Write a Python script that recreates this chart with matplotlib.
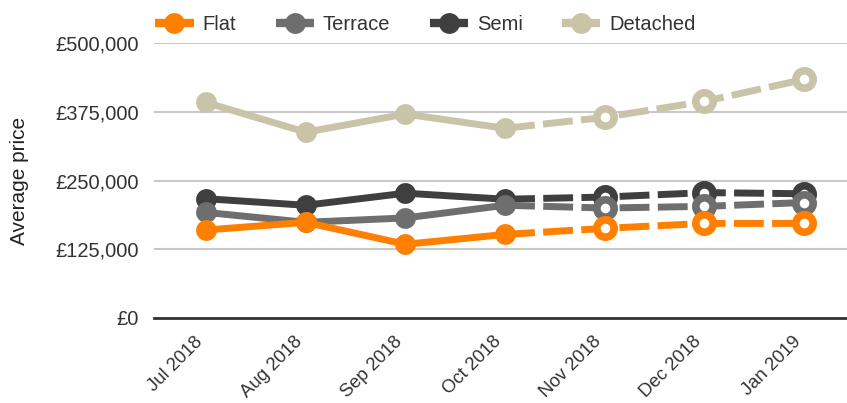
import matplotlib.pyplot as plt
from matplotlib.lines import Line2D
from matplotlib.ticker import FuncFormatter

plt.rcParams['font.family'] = ['Liberation Sans', 'DejaVu Sans']

# Dados
meses = ['Jul 2018', 'Aug 2018', 'Sep 2018', 'Oct 2018', 'Nov 2018', 'Dec 2018', 'Jan 2019']
flat = [160000, 174000, 134000, 152000, 163000, 172000, 172000]
terrace = [192000, 174000, 182000, 205000, 200000, 203000, 210000]
semi = [217000, 205000, 227000, 216000, 220000, 228000, 226000]
detached = [392000, 338000, 371000, 345000, 365000, 394000, 434000]
n_real = 4  # Jul..Oct observados, Nov..Jan previsão

series = [
    ('Flat', flat, '#FF7F00'),
    ('Terrace', terrace, '#6E6E6E'),
    ('Semi', semi, '#3F3F3F'),
    ('Detached', detached, '#C9C3A8'),
]

fig = plt.figure(figsize=(8.47, 4.03), dpi=100)
ax = fig.add_axes([0.182, 0.211, 0.818, 0.682])

x = list(range(len(meses)))
lw = 5
tracejado = (0, (4.3, 1.2))

# desenhar de trás para frente (Detached atrás, Flat na frente)
for ordem, (nome, valores, cor) in enumerate(reversed(series)):
    z = 3 + ordem
    # parte observada
    ax.plot(x[:n_real], valores[:n_real], color=cor, lw=lw, marker='o',
            markersize=15, markeredgewidth=0, solid_capstyle='butt', zorder=z)
    # parte prevista (tracejada)
    ax.plot(x[n_real - 1:], valores[n_real - 1:], color=cor, lw=lw,
            linestyle=tracejado, dash_capstyle='butt', zorder=z)
    ax.plot(x[n_real:], valores[n_real:], linestyle='none', marker='o',
            markersize=12.5, markerfacecolor='white', markeredgecolor=cor,
            markeredgewidth=5.5, zorder=z + 0.5)

ax.set_xlim(-0.52, 6.43)
ax.set_ylim(0, 500000)
ax.set_yticks([0, 125000, 250000, 375000, 500000])
ax.yaxis.set_major_formatter(FuncFormatter(lambda v, p: '£{:,.0f}'.format(v)))
ax.set_xticks(x)
ax.set_xticklabels(meses, rotation=45, ha='right', rotation_mode='default')

ax.grid(axis='y', color='#C8C8C8', lw=1.5, zorder=0)
ax.set_axisbelow(True)
for lado in ['top', 'right', 'left']:
    ax.spines[lado].set_visible(False)
ax.spines['bottom'].set_color('#333333')
ax.spines['bottom'].set_linewidth(2)
ax.spines['bottom'].set_zorder(2)

ax.tick_params(axis='both', length=0)
ax.tick_params(axis='y', pad=11, labelsize=14.5)
ax.tick_params(axis='x', pad=11, labelsize=13.3)
for t in ax.get_xticklabels() + ax.get_yticklabels():
    t.set_color('#333333')

ax.set_ylabel('Average price', fontsize=15, color='#222222')
ax.yaxis.set_label_coords(-0.181, 0.5)

# Legenda
handles = [Line2D([0], [0], color=c, lw=6, marker='o', markersize=15,
                  markeredgewidth=0, solid_capstyle='butt')
           for _, _, c in series]
leg = fig.legend(handles, [s[0] for s in series], loc='center left',
                 bbox_to_anchor=(0.162, 0.94), ncol=4, frameon=False,
                 fontsize=14.5, handlelength=1.9, columnspacing=1.95,
                 handletextpad=0.45)
for t in leg.get_texts():
    t.set_color('#333333')

fig.savefig('out.png', dpi=100)
